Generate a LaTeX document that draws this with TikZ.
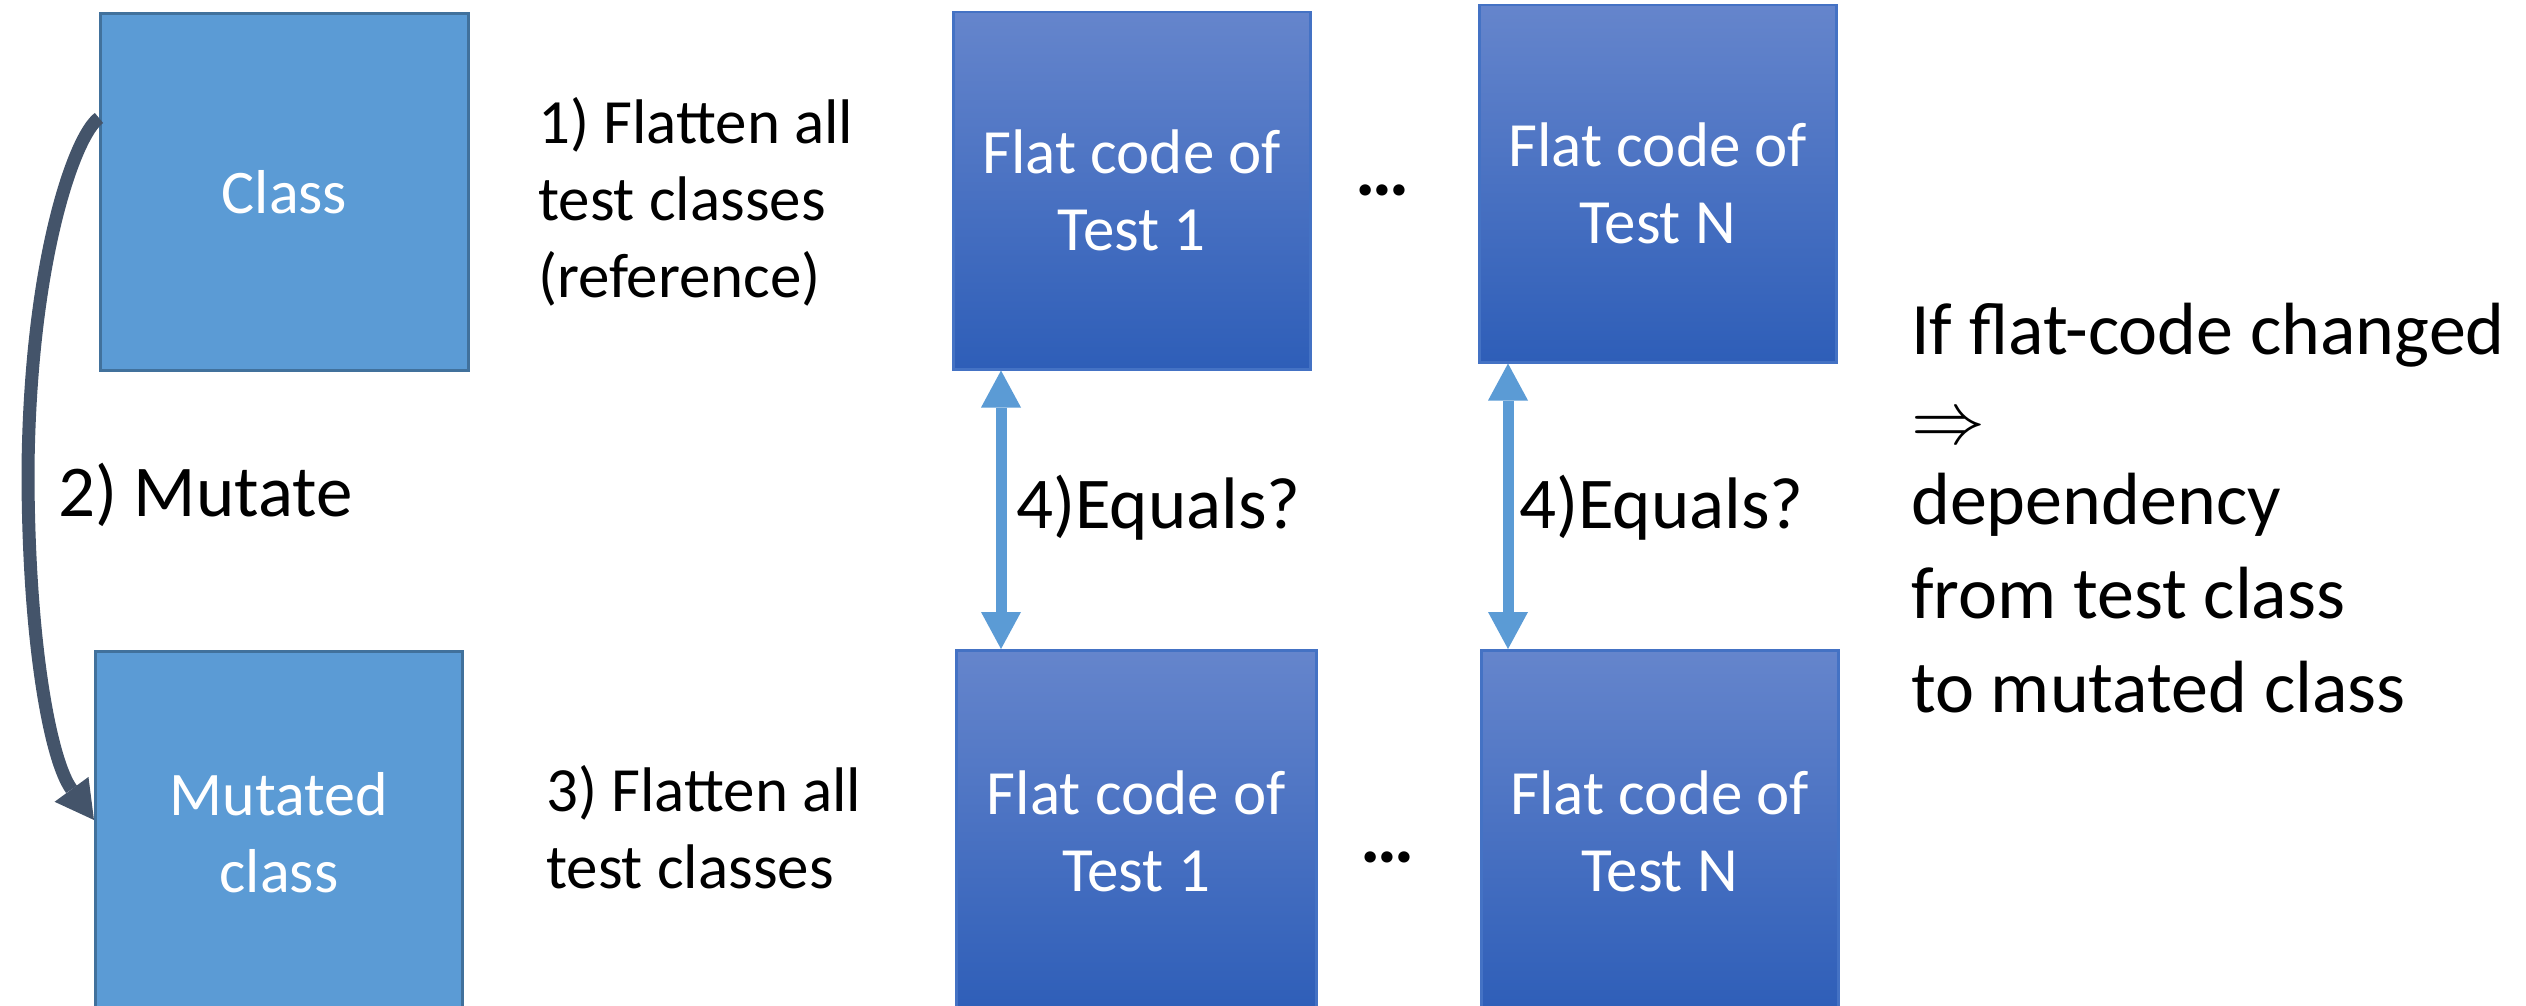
\RequirePackage{fix-cm}
\documentclass[tikz,border=0pt]{standalone}
\usepackage{fontspec}
\setmainfont{Carlito}
\usetikzlibrary{arrows.meta}

\definecolor{classfill}{HTML}{5B9BD5}
\definecolor{classedge}{HTML}{41719C}
\definecolor{flattop}{HTML}{6585CC}
\definecolor{flatbot}{HTML}{2E5EB8}
\definecolor{flatedge}{HTML}{4472C4}
\definecolor{slate}{HTML}{44546A}

\begin{document}
\begin{tikzpicture}[x=1pt,y=-1pt,
  classbox/.style={draw=classedge, line width=3pt, fill=classfill,
    inner sep=0pt, anchor=north west, text=white, align=center,
    font=\fontsize{62}{77}\selectfont},
  flatbox/.style={draw=flatedge, line width=2.5pt, top color=flattop,
    bottom color=flatbot, inner sep=0pt, anchor=north west, text=white,
    align=center, minimum width=357pt, minimum height=357pt,
    font=\fontsize{63}{77}\selectfont},
  steplabel/.style={anchor=base west, align=left, inner sep=0pt,
    font=\fontsize{63}{77}\selectfont},
  dotslabel/.style={inner sep=0pt, font=\fontsize{76}{85}\selectfont\bfseries},
  eqlabel/.style={anchor=base west, inner sep=0pt,
    font=\fontsize{73}{85}\selectfont},
  eqarrow/.style={draw=classfill, line width=11pt,
    {Triangle[length=37pt,width=40pt,line width=0pt]}-{Triangle[length=37pt,width=40pt,line width=0pt]}},
  mutarrow/.style={draw=slate, line width=13pt,
    -{Triangle[length=38pt,width=42pt,line width=0pt]}}
]
\clip (0,0) rectangle (2526,1006);

% original and mutated class
\node[classbox, minimum width=368pt, minimum height=357pt] (cls) at (99,12) {Class};
\node[classbox, minimum width=367pt, minimum height=362pt] (mut) at (94,650) {Mutated\\class};

% flattened test code, reference and mutated runs
\node[flatbox] (t1top) at (952,11) {Flat code of\\Test 1};
\node[flatbox] (tntop) at (1478,4) {Flat code of\\Test N};
\node[flatbox, minimum width=360pt, minimum height=362pt] (t1bot) at (955,649) {Flat code of\\Test 1};
\node[flatbox, minimum height=362pt] (tnbot) at (1480,649) {Flat code of\\Test N};

\node[dotslabel] (dtop) at (1383,190) {…};
\node[dotslabel] (dbot) at (1388,857) {…};

% step descriptions (base anchor sits on the last line)
\node[steplabel] (s1) at (538,297) {1) Flatten all\\test classes\\(reference)};
\node[steplabel, font=\fontsize{73}{85}\selectfont] (s2) at (58,516) {2) Mutate};
\node[steplabel] (s3) at (546,888) {3) Flatten all\\test classes};

% comparison arrows
\draw[eqarrow] ([xshift=49pt]t1top.south west) -- ([xshift=46pt]t1bot.north west);
\draw[eqarrow] ([xshift=30pt]tntop.south west) -- ([xshift=28pt]tnbot.north west);
\node[eqlabel] (q1) at (1016,528) {4)Equals?};
\node[eqlabel] (q2) at (1519,528) {4)Equals?};

% mutation arrow
\draw[mutarrow] ([yshift=-106pt]cls.north west)
  .. controls (75,135) and (30,260) .. (28,470)
  .. controls (28,640) and (50,760) .. ([yshift=-170pt]mut.north west);

% conclusion
\node[steplabel, font=\fontsize{74}{85}\selectfont] (res) at (1911,712)
  {If flat-code changed\\[4pt]$\Rightarrow$\\[-4pt]dependency\\[9pt]from test class\\[9pt]to mutated class};
\end{tikzpicture}
\end{document}
